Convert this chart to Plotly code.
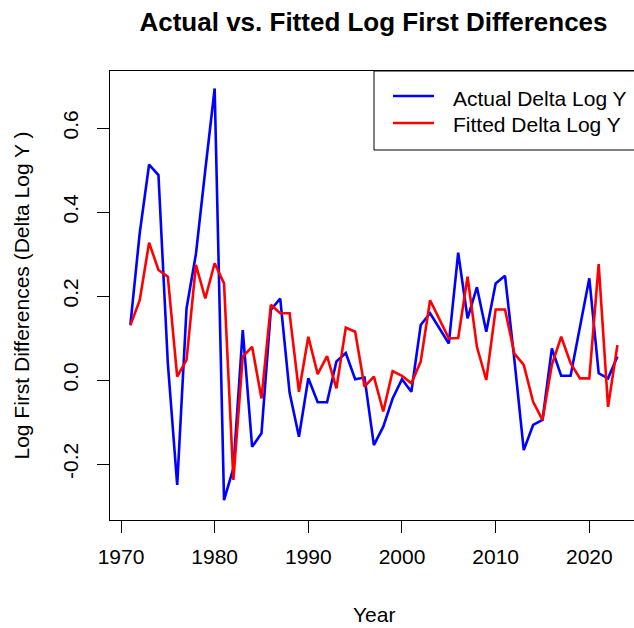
import plotly.graph_objects as go

# Year-over-year log first differences, actual and fitted
years = list(range(1971, 2024))

actual_dlogy = [
    0.131, 0.35, 0.513, 0.488, 0.04, -0.25, 0.171, 0.30, 0.50, 0.694,
    -0.286, -0.21, 0.119, -0.159, -0.127, 0.167, 0.194, -0.03, -0.135, 0.004,
    -0.053, -0.053, 0.044, 0.064, 0.002, 0.006, -0.155, -0.111, -0.044, 0.002,
    -0.028, 0.131, 0.159, 0.123, 0.087, 0.303, 0.147, 0.221, 0.115, 0.23,
    0.248, 0.048, -0.167, -0.107, -0.095, 0.075, 0.01, 0.01, 0.127, 0.242,
    0.016, 0.004, 0.056,
]

fitted_dlogy = [
    0.13, 0.19, 0.327, 0.262, 0.246, 0.008, 0.048, 0.274, 0.194, 0.278,
    0.23, -0.238, 0.056, 0.079, -0.044, 0.179, 0.159, 0.159, -0.028, 0.103,
    0.014, 0.057, -0.02, 0.125, 0.115, -0.016, 0.008, -0.075, 0.021, 0.01,
    -0.008, 0.044, 0.19, 0.143, 0.099, 0.1, 0.246, 0.079, 0.0, 0.168,
    0.168, 0.063, 0.036, -0.052, -0.095, 0.036, 0.103, 0.04, 0.004, 0.004,
    0.276, -0.064, 0.083,
]

x_ticks = [1970, 1980, 1990, 2000, 2010, 2020]
y_ticks = [-0.2, 0.0, 0.2, 0.4, 0.6]
y_tick_text = ["-0.2", "0.0", "0.2", "0.4", "0.6"]

series_names = ["Actual Delta Log Y", "Fitted Delta Log Y"]
series_colors = ["#0000FF", "#FF0000"]

FONT = "Liberation Sans, Arial, sans-serif"
W, H = 634, 628
ML, MT, MB, MR = 110, 71, 108, 0
PW = W - ML - MR
PH = H - MT - MB


def px_x(p):
    return (p - ML) / PW


def px_y(p):
    return (H - MB - p) / PH


fig = go.Figure()
for vals, name, col in zip([actual_dlogy, fitted_dlogy], series_names, series_colors):
    fig.add_trace(go.Scatter(
        x=years, y=vals, mode="lines", name=name,
        line=dict(color=col, width=2.6), showlegend=False,
    ))

fig.update_layout(
    width=W, height=H,
    margin=dict(l=ML, r=MR, t=MT, b=MB),
    paper_bgcolor="white", plot_bgcolor="white",
    font=dict(family=FONT, size=21, color="#000"),
    title=dict(
        text="<b>Actual vs. Fitted Log First Differences</b>",
        font=dict(family=FONT, size=26, color="#000"),
        x=px_x(373.5), xref="paper", xanchor="center",
        y=1 - 22 / H, yref="container", yanchor="middle",
    ),
)

fig.update_xaxes(
    range=[1968.826, 2024.77],
    tickvals=x_ticks, ticks="outside", ticklen=12, tickwidth=1, tickcolor="#000",
    ticklabelstandoff=6,
    showline=True, linecolor="#000", linewidth=1, mirror=True,
    showgrid=False, zeroline=False,
    tickfont=dict(family=FONT, size=21, color="#000"),
)
fig.update_yaxes(
    range=[-0.3333, 0.7357],
    tickvals=y_ticks, ticktext=y_tick_text, tickangle=-90,
    ticks="outside", ticklen=12, tickwidth=1, tickcolor="#000",
    ticklabelstandoff=11,
    showline=True, linecolor="#000", linewidth=1, mirror=False,
    showgrid=False, zeroline=False,
    tickfont=dict(family=FONT, size=21, color="#000"),
)

# Axis titles
fig.add_annotation(
    text="Year", xref="paper", yref="paper",
    x=px_x(373.5), y=px_y(614), xanchor="center", yanchor="middle",
    showarrow=False, font=dict(family=FONT, size=21, color="#000"),
)
fig.add_annotation(
    text="Log First Differences (Delta Log Y )", xref="paper", yref="paper",
    x=px_x(21), y=px_y(295.5), xanchor="center", yanchor="middle",
    textangle=-90, showarrow=False, font=dict(family=FONT, size=21, color="#000"),
)

# Legend box with line keys
fig.add_shape(
    type="rect", xref="paper", yref="paper",
    x0=px_x(374), x1=px_x(700), y0=px_y(150), y1=px_y(71),
    line=dict(color="#000", width=1), fillcolor="white", layer="above",
)
for i, (name, col) in enumerate(zip(series_names, series_colors)):
    ly = 96 + i * 27
    fig.add_shape(
        type="line", xref="paper", yref="paper",
        x0=px_x(393), x1=px_x(434), y0=px_y(ly), y1=px_y(ly),
        line=dict(color=col, width=2.6), layer="above",
    )
    fig.add_annotation(
        text=name, xref="paper", yref="paper",
        x=px_x(451), y=px_y(ly + 2), xanchor="left", yanchor="middle",
        showarrow=False, font=dict(family=FONT, size=21, color="#000"),
    )

fig.write_html("out.html")
